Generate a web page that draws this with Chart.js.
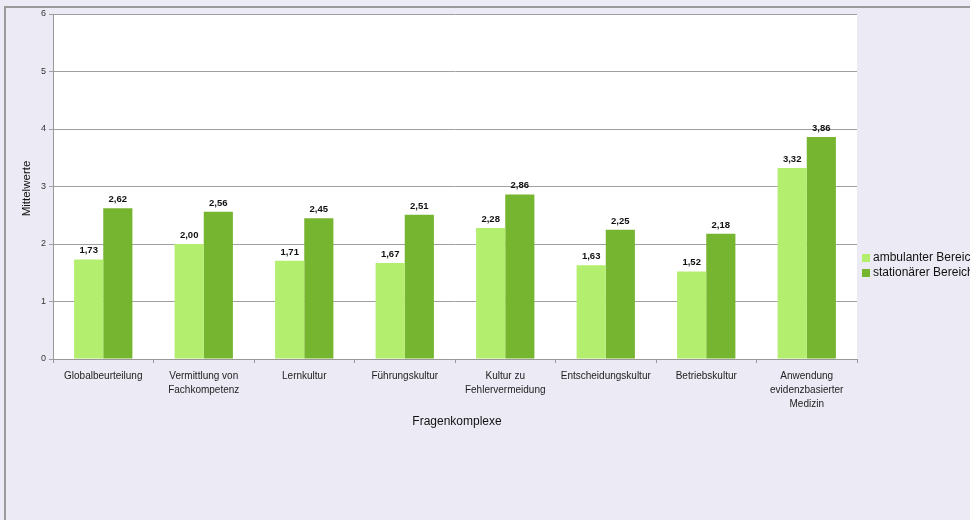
<!DOCTYPE html>
<html>
<head>
<meta charset="utf-8">
<script src="https://cdn.jsdelivr.net/npm/chart.js@4"></script>
<style>
  html, body { margin: 0; padding: 0; background: #ECEBF5; overflow: hidden; }
  #frame { position: absolute; left: 4px; top: 6px; width: 1100px; height: 700px;
           border-left: 2px solid #9a9a9a; border-top: 2px solid #9a9a9a; }
  #myChart { position: absolute; left: 0; top: 0; }
</style>
</head>
<body>
<div id="frame"></div>
<canvas id="myChart" width="970" height="520"></canvas>
<script>
// categories (multi-line labels as in the original)
var categories = [
  'Globalbeurteilung',
  ['Vermittlung von', 'Fachkompetenz'],
  'Lernkultur',
  'Führungskultur',
  ['Kultur zu', 'Fehlervermeidung'],
  'Entscheidungskultur',
  'Betriebskultur',
  ['Anwendung', 'evidenzbasierter', 'Medizin']
];
var ambulant = [1.73, 2.00, 1.71, 1.67, 2.28, 1.63, 1.52, 3.32];
var stationaer = [2.62, 2.56, 2.45, 2.51, 2.86, 2.25, 2.18, 3.86];
var seriesNames = ['ambulanter Bereich', 'stationärer Bereich'];
var yTicks = [0, 1, 2, 3, 4, 5, 6];

var FONT = "'Liberation Sans', Arial, sans-serif";
Chart.defaults.font.family = FONT;

// white plot area
var plotBg = {
  id: 'plotBg',
  beforeDraw: function(chart) {
    var a = chart.chartArea, ctx = chart.ctx;
    ctx.save();
    ctx.fillStyle = '#ffffff';
    ctx.fillRect(a.left, a.top, a.right - a.left, a.bottom - a.top);
    ctx.restore();
  }
};

// value labels above the bars
var valueLabels = {
  id: 'valueLabels',
  afterDatasetsDraw: function(chart) {
    var ctx = chart.ctx;
    ctx.save();
    ctx.font = 'bold 9.5px ' + FONT;
    ctx.fillStyle = '#111';
    ctx.textAlign = 'center';
    ctx.textBaseline = 'bottom';
    chart.data.datasets.forEach(function(ds, i) {
      chart.getDatasetMeta(i).data.forEach(function(bar, j) {
        ctx.fillText(ds.data[j].toFixed(2).replace('.', ','), bar.x, bar.y - 4);
      });
    });
    ctx.restore();
  }
};

// axis titles + legend on the right
var extras = {
  id: 'extras',
  afterDraw: function(chart) {
    var ctx = chart.ctx, a = chart.chartArea;
    ctx.save();
    ctx.fillStyle = '#111';
    ctx.font = '12px ' + FONT;
    ctx.textAlign = 'center';
    ctx.textBaseline = 'middle';
    ctx.fillText('Fragenkomplexe', (a.left + a.right) / 2 + 2, 422);
    ctx.font = '11.5px ' + FONT;
    ctx.translate(27, (a.top + a.bottom) / 2 + 2);
    ctx.rotate(-Math.PI / 2);
    ctx.fillText('Mittelwerte', 0, 0);
    ctx.restore();

    ctx.save();
    ctx.font = '12px ' + FONT;
    ctx.textAlign = 'left';
    ctx.textBaseline = 'middle';
    chart.data.datasets.forEach(function(ds, i) {
      var y = 258 + i * 15;
      ctx.fillStyle = ds.backgroundColor;
      ctx.fillRect(862, y - 4, 8, 8);
      ctx.fillStyle = '#111';
      ctx.fillText(seriesNames[i], 873, y);
    });
    ctx.restore();
  }
};

var ctx = document.getElementById('myChart').getContext('2d');
var chart = new Chart(ctx, {
  type: 'bar',
  data: {
    labels: categories,
    datasets: [{
      label: seriesNames[0],
      data: ambulant,
      backgroundColor: '#B4EE6E',
      categoryPercentage: 0.58,
      barPercentage: 1.0
    }, {
      label: seriesNames[1],
      data: stationaer,
      backgroundColor: '#76B52F',
      categoryPercentage: 0.58,
      barPercentage: 1.0
    }]
  },
  options: {
    responsive: false,
    animation: false,
    devicePixelRatio: 1,
    layout: { padding: { left: 0, top: 14, right: 113, bottom: 0 } },
    plugins: {
      legend: { display: false },
      tooltip: { enabled: false }
    },
    scales: {
      x: {
        afterFit: function(s) { s.height = 161; },
        grid: { drawOnChartArea: false, drawTicks: true, tickLength: 4, color: '#999' },
        border: { color: '#999' },
        ticks: { color: '#222', padding: 6, font: { size: 10, lineHeight: 1.4 }, maxRotation: 0, autoSkip: false }
      },
      y: {
        min: 0,
        max: 6,
        afterFit: function(s) { s.width = 53; },
        afterBuildTicks: function(s) { s.ticks = yTicks.map(function(v) { return { value: v }; }); },
        grid: { color: '#a0a0a0', tickLength: 4 },
        border: { color: '#999' },
        ticks: { color: '#333', padding: 3, font: { size: 9 } }
      }
    }
  },
  plugins: [plotBg, valueLabels, extras]
});
</script>
</body>
</html>
